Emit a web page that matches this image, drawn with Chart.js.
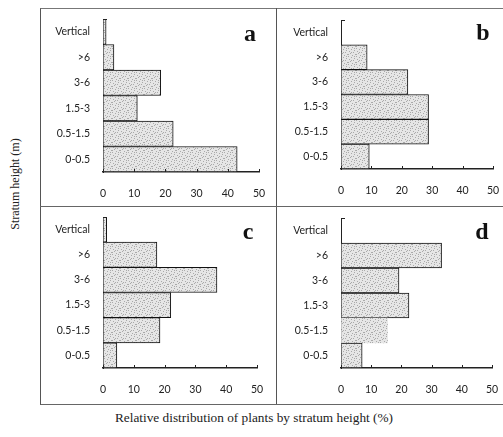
<!DOCTYPE html>
<html>
<head>
<meta charset="utf-8">
<script src="https://cdn.jsdelivr.net/npm/chart.js@4/dist/chart.umd.min.js"></script>
<style>
  body { margin: 0; background: #fff; width: 503px; height: 437px; overflow: hidden; position: relative; }
  .frame { position: absolute; left: 40px; top: 8px; width: 480px; height: 395px; border-left: 1px solid #555; border-top: 1px solid #777; border-bottom: 1px solid #666; }
  .vdiv { position: absolute; left: 276px; top: 8px; width: 1px; height: 396px; background: #555; }
  .hdiv { position: absolute; left: 40px; top: 206px; width: 470px; height: 1px; background: #666; }
  .panel { position: absolute; }
  .letter { position: absolute; font: bold 24px "Liberation Serif", serif; color: #111; transform: translateX(-50%); line-height: 1; }
  .ytitle { position: absolute; left: 15px; top: 184px; font: 12px "Liberation Serif", serif; color: #222; transform: translate(-50%, -50%) rotate(-90deg); white-space: nowrap; }
  .xtitle { position: absolute; left: 254px; top: 418px; font: 13.3px "Liberation Serif", serif; color: #222; transform: translate(-50%, -50%); white-space: nowrap; }
</style>
</head>
<body>
<div class="frame"></div>
<div class="vdiv"></div>
<div class="hdiv"></div>
<div class="ytitle">Stratum height (m)</div>
<div class="xtitle">Relative distribution of plants by stratum height (%)</div>

<script>
// categories, top to bottom
const strata = ['Vertical', '>6', '3-6', '1.5-3', '0.5-1.5', '0-0.5'];
const xTicks = [0, 10, 20, 30, 40, 50];

// percentage of plants per stratum, one array per panel
const valuesA = [1, 3.5, 18.5, 11, 22.5, 43];
const valuesB = [0, 8.6, 22, 28.8, 28.8, 9.3];
const valuesC = [1.2, 17.5, 37, 22, 18.5, 4.5];
const valuesD = [0, 33.3, 19.2, 22.5, 15.4, 7];

// stipple fill for the bars (fixed dot layout)
function makeStipple() {
    const c = document.createElement('canvas');
    c.width = 8; c.height = 8;
    const g = c.getContext('2d');
    g.fillStyle = '#e6e6e6';
    g.fillRect(0, 0, 8, 8);
    const dots = [[0,0],[3,1],[6,2],[1,3],[5,4],[2,5],[7,6],[4,7],[6,0],[0,6],[3,4]];
    g.fillStyle = '#aaaaaa';
    dots.forEach(d => g.fillRect(d[0], d[1], 1, 1));
    return g.createPattern(c, 'repeat');
}
const stipple = makeStipple();

// small tick marks pointing into the plot
const innerTicks = {
    id: 'innerTicks',
    afterDraw(chart) {
        const ctx = chart.ctx;
        const x = chart.scales.x;
        const area = chart.chartArea;
        ctx.save();
        ctx.strokeStyle = '#222';
        ctx.lineWidth = 1;
        ctx.beginPath();
        xTicks.forEach(v => {
            const px = Math.round(x.getPixelForValue(v)) + 0.5;
            ctx.moveTo(px, area.bottom);
            ctx.lineTo(px, area.bottom - 3);
        });
        ctx.moveTo(area.left, area.top + 0.5);
        ctx.lineTo(area.left + 4, area.top + 0.5);
        ctx.stroke();
        ctx.restore();
    }
};

const panels = [
    { id: 'a', data: valuesA, left: 40,  top: 8,   w: 236, h: 198, plotL: 63, plotR: 219, plotT: 11, plotB: 164, lx: 250, ly: 21 },
    { id: 'b', data: valuesB, left: 276, top: 8,   w: 227, h: 198, plotL: 65, plotR: 217, plotT: 12, plotB: 161, lx: 483, ly: 20 },
    { id: 'c', data: valuesC, left: 40,  top: 206, w: 236, h: 198, plotL: 63, plotR: 217, plotT: 11, plotB: 162, lx: 248, ly: 219 },
    { id: 'd', data: valuesD, left: 276, top: 206, w: 227, h: 198, plotL: 65, plotR: 216, plotT: 12, plotB: 162, lx: 482, ly: 219 }
];

panels.forEach(p => {
    const box = document.createElement('div');
    box.className = 'panel';
    box.style.left = p.left + 'px';
    box.style.top = p.top + 'px';
    box.style.width = p.w + 'px';
    box.style.height = p.h + 'px';
    const cv = document.createElement('canvas');
    box.appendChild(cv);
    document.body.appendChild(box);

    const letter = document.createElement('div');
    letter.className = 'letter';
    letter.textContent = p.id;
    letter.style.left = p.lx + 'px';
    letter.style.top = p.ly + 'px';
    document.body.appendChild(letter);

    // panel d: the 0.5-1.5 bar has no outline in the original
    const borders = strata.map(s => (p.id === 'd' && s === '0.5-1.5') ? 0 : 1);

    new Chart(cv, {
        type: 'bar',
        data: {
            labels: strata,
            datasets: [{
                data: p.data,
                backgroundColor: stipple,
                borderColor: '#111',
                borderWidth: borders,
                borderSkipped: 'start',
                barPercentage: 1,
                categoryPercentage: 1
            }]
        },
        options: {
            indexAxis: 'y',
            responsive: true,
            maintainAspectRatio: false,
            animation: false,
            layout: { padding: { top: p.plotT, right: p.w - p.plotR, left: 0, bottom: 0 } },
            plugins: { legend: { display: false }, tooltip: { enabled: false } },
            scales: {
                x: {
                    min: 0, max: 50,
                    afterFit(s) { s.height = p.h - p.plotB; s.paddingLeft = 0; s.paddingRight = 0; },
                    afterBuildTicks(s) { s.ticks = xTicks.map(v => ({ value: v })); },
                    grid: { display: true, drawOnChartArea: false, drawTicks: false },
                    border: { display: true, color: '#222', width: 1.5 },
                    ticks: { padding: 15, color: '#222', font: { family: 'Lato', size: 10.5 } }
                },
                y: {
                    afterFit(s) { s.width = p.plotL; s.paddingTop = 0; s.paddingBottom = 0; },
                    grid: { display: true, drawOnChartArea: false, drawTicks: false },
                    border: { display: true, color: '#222', width: 1 },
                    ticks: { padding: 13, color: '#222', font: { family: 'Lato', size: 10.5 } }
                }
            }
        },
        plugins: [innerTicks]
    });
});
</script>
</body>
</html>
